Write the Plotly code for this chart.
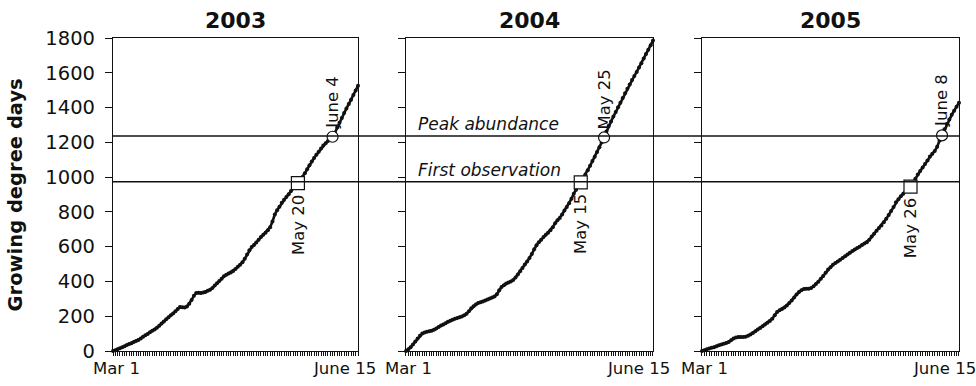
import plotly.graph_objects as go

# ---------------- data ----------------
years = ["2003", "2004", "2005"]
days = list(range(107))  # 0 = Mar 1 ... 106 = June 15

gdd_2003 = [0, 4, 10, 16, 22, 28, 35, 40, 45, 52, 57, 63, 72, 82, 90, 98, 108, 116, 124, 134,
            145, 158, 170, 182, 194, 206, 216, 228, 242, 253, 252, 250, 256, 272, 293, 318, 333, 335, 333, 336,
            340, 346, 352, 362, 376, 390, 402, 416, 430, 438, 446, 452, 460, 472, 485, 496, 510, 530, 555, 580,
            598, 610, 624, 640, 655, 668, 680, 695, 712, 745, 785, 810, 830, 852, 870, 885, 902, 920, 938, 952,
            965, 982, 1000, 1022, 1045, 1068, 1090, 1110, 1128, 1146, 1165, 1182, 1195, 1208, 1220, 1232, 1255, 1285, 1312, 1340,
            1368, 1395, 1420, 1445, 1472, 1498, 1525]

gdd_2004 = [0, 10, 22, 38, 55, 72, 88, 100, 106, 110, 113, 116, 122, 130, 138, 146, 152, 160, 168, 174,
            180, 185, 190, 194, 199, 205, 214, 228, 246, 258, 268, 276, 280, 285, 290, 296, 302, 308, 314, 326,
            350, 368, 378, 388, 394, 400, 408, 422, 440, 458, 478, 498, 515, 535, 558, 585, 608, 625, 640, 655,
            668, 680, 694, 712, 735, 752, 765, 785, 808, 828, 850, 875, 905, 928, 952, 970, 990, 1015, 1040, 1065,
            1092, 1117, 1145, 1172, 1200, 1228, 1262, 1295, 1320, 1348, 1375, 1402, 1428, 1455, 1482, 1508, 1532, 1558, 1582, 1605,
            1630, 1655, 1682, 1708, 1732, 1758, 1785]

gdd_2005 = [0, 5, 10, 14, 18, 22, 27, 33, 38, 42, 46, 52, 62, 72, 78, 80, 80, 80, 82, 88,
            95, 104, 114, 124, 132, 142, 152, 162, 172, 186, 205, 224, 234, 242, 250, 262, 276, 290, 308, 325,
            340, 350, 356, 358, 358, 362, 372, 385, 398, 415, 432, 450, 468, 482, 496, 506, 515, 525, 535, 545,
            555, 565, 575, 584, 592, 600, 610, 618, 625, 640, 658, 675, 692, 708, 722, 740, 760, 782, 805, 828,
            855, 872, 890, 905, 918, 932, 945, 965, 990, 1015, 1035, 1055, 1075, 1095, 1118, 1135, 1150, 1175, 1210, 1240,
            1275, 1305, 1332, 1358, 1382, 1405, 1428]

series = [gdd_2003, gdd_2004, gdd_2005]

first_obs_day = [80, 75, 86]
first_obs_label = ["May 20", "May 15", "May 26"]
peak_day = [95, 85, 99]
peak_label = ["June 4", "May 25", "June 8"]

first_obs_gdd = 974
peak_gdd = 1237
threshold_labels = ["First observation", "Peak abundance"]

y_ticks = [0, 200, 400, 600, 800, 1000, 1200, 1400, 1600, 1800]
x_label_days = [0, 106]
x_labels = ["Mar 1", "June 15"]
y_title = "Growing degree days"

# ---------------- layout geometry ----------------
W, H = 976, 386
domains = [[0.0, 0.2896], [0.3463, 0.6383], [0.6962, 1.0]]
FONT = "DejaVu Sans"
BLACK = "#111111"

fig = go.Figure()

for i, (yr, vals) in enumerate(zip(years, series)):
    xa = "x" if i == 0 else f"x{i+1}"
    ya = "y" if i == 0 else f"y{i+1}"
    fig.add_trace(go.Scatter(
        x=days, y=vals, mode="lines+markers", xaxis=xa, yaxis=ya,
        line=dict(color=BLACK, width=2.6),
        marker=dict(color=BLACK, size=4),
        cliponaxis=False, showlegend=False, hoverinfo="skip"))
    # first observation square
    fd = first_obs_day[i]
    fig.add_trace(go.Scatter(
        x=[fd], y=[vals[fd]], mode="markers", xaxis=xa, yaxis=ya,
        marker=dict(symbol="square", size=13, color="white",
                    line=dict(color=BLACK, width=1.2)),
        showlegend=False, hoverinfo="skip"))
    # peak circle
    pd_ = peak_day[i]
    fig.add_trace(go.Scatter(
        x=[pd_], y=[vals[pd_]], mode="markers", xaxis=xa, yaxis=ya,
        marker=dict(symbol="circle", size=11, color="white",
                    line=dict(color=BLACK, width=1.2)),
        showlegend=False, hoverinfo="skip"))

layout = dict(
    width=W, height=H,
    margin=dict(l=113, r=17, t=38, b=35, pad=0),
    paper_bgcolor="white", plot_bgcolor="white",
    font=dict(family=FONT, color=BLACK),
    showlegend=False,
)

for i in range(3):
    xkey = "xaxis" if i == 0 else f"xaxis{i+1}"
    ykey = "yaxis" if i == 0 else f"yaxis{i+1}"
    xname = "x" if i == 0 else f"x{i+1}"
    yname = "y" if i == 0 else f"y{i+1}"
    layout[xkey] = dict(
        domain=domains[i], range=[0, 106], anchor=yname,
        showgrid=False, zeroline=False, showline=True, mirror=True,
        linecolor=BLACK, linewidth=1.2,
        tickmode="array", tickvals=days, ticks="outside", ticklen=4,
        tickwidth=1, tickcolor=BLACK, showticklabels=False,
    )
    layout[ykey] = dict(
        domain=[0, 1], range=[0, 1800], anchor=xname,
        showgrid=False, zeroline=False, showline=True, mirror=True,
        linecolor=BLACK, linewidth=1.2,
        tickmode="array", tickvals=y_ticks, ticks="outside", ticklen=7,
        tickwidth=1, tickcolor=BLACK,
        showticklabels=(i == 0),
        tickfont=dict(family=FONT, size=19.5, color=BLACK),
        ticklabelstandoff=6,
    )

annotations = []
# panel titles
for i, yr in enumerate(years):
    cx = (domains[i][0] + domains[i][1]) / 2
    annotations.append(dict(
        text=f"<b>{yr}</b>", x=cx, y=1, xref="paper", yref="paper",
        xanchor="center", yanchor="bottom", yshift=3, showarrow=False,
        font=dict(family=FONT, size=22, color=BLACK)))

# y axis title
annotations.append(dict(
    text=f"<b>{y_title}</b>", x=-0.1147, y=0.5, xref="paper", yref="paper",
    xanchor="center", yanchor="middle", textangle=-90, showarrow=False,
    font=dict(family=FONT, size=19.5, color=BLACK)))

# x labels per panel
for i in range(3):
    xname = "x" if i == 0 else f"x{i+1}"
    for d, lab in zip(x_label_days, x_labels):
        annotations.append(dict(
            text=lab, x=d, y=0, xref=xname, yref="paper",
            xanchor="center", yanchor="top", yshift=-6,
            xshift=(3 if d == 0 else -14), showarrow=False,
            font=dict(family=FONT, size=16.5, color=BLACK)))

# threshold labels in middle panel
for val, lab in zip([first_obs_gdd, peak_gdd], threshold_labels):
    annotations.append(dict(
        text=f"<i>{lab}</i>", x=4.3, y=val, xref="x2", yref="y2",
        xanchor="left", yanchor="bottom", yshift=0, showarrow=False,
        font=dict(family=FONT, size=17, color=BLACK)))

# date labels
for i, vals in enumerate(series):
    xname = "x" if i == 0 else f"x{i+1}"
    yname = "y" if i == 0 else f"y{i+1}"
    fd, pd_ = first_obs_day[i], peak_day[i]
    annotations.append(dict(
        text=first_obs_label[i], x=fd, y=vals[fd], xref=xname, yref=yname,
        xanchor="center", yanchor="top", yshift=-10, textangle=-90,
        showarrow=False, font=dict(family=FONT, size=16.5, color=BLACK)))
    annotations.append(dict(
        text=peak_label[i], x=pd_, y=vals[pd_], xref=xname, yref=yname,
        xanchor="center", yanchor="bottom", yshift=6, textangle=-90,
        showarrow=False, font=dict(family=FONT, size=16.5, color=BLACK)))

layout["annotations"] = annotations

# horizontal threshold lines spanning all three panels
layout["shapes"] = [
    dict(type="line", xref="paper", yref="y", x0=0, x1=1, y0=v, y1=v,
         line=dict(color=BLACK, width=1.5))
    for v in [first_obs_gdd, peak_gdd]
]

fig.update_layout(**layout)
fig.write_html("out.html")
